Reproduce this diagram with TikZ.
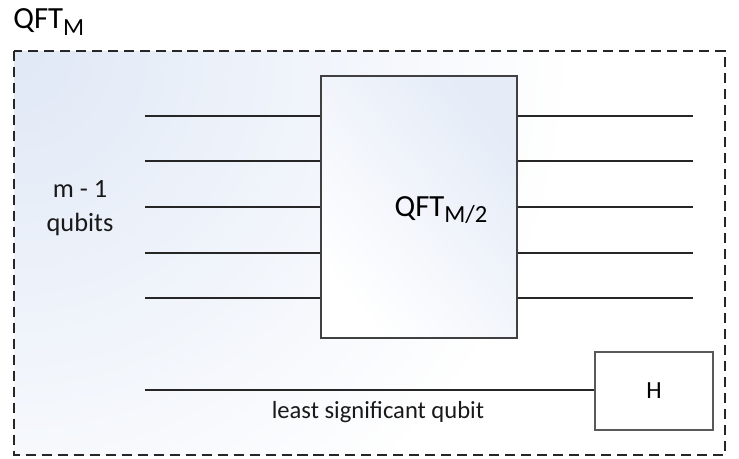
\documentclass[tikz,border=0pt]{standalone}
\usepackage{fontspec}
\setmainfont{Carlito}
\usepackage{tikz}
\usetikzlibrary{positioning, calc}
\definecolor{bgblue}{RGB}{224,232,246}
\definecolor{boxgray}{RGB}{64,64,64}
\newcommand{\qsub}[1]{\raisebox{-0.45ex}{\fontsize{14}{16}\selectfont #1}}
\tikzset{
  wire/.style={line width=1.6pt, draw=black!85},
  gatebox/.style={rectangle, draw=boxgray, line width=1.5pt, inner sep=0pt},
  hbox/.style={rectangle, draw=black!65, line width=1pt, fill=white, inner sep=0pt},
  frame/.style={dashed, dash pattern=on 5.7pt off 3.4pt, line width=1.1pt, draw=black!85},
  lbl/.style={font=\fontsize{14}{17}\selectfont, text=black!90, align=center},
  title/.style={font=\fontsize{17.5}{20}\selectfont, inner sep=0pt}
}

\begin{document}
\begin{tikzpicture}[x=0.02cm, y=-0.02cm]
    \useasboundingbox (0,0) rectangle (739,458);

    % Fondo del bloque QFT_M
    \begin{scope}
        \clip (14,51) rectangle (725,455);
        \shade[inner color=bgblue, outer color=white] (14,51) circle (560);
    \end{scope}
    \draw[frame] (14,51) rectangle (725,455);
    \node[title, anchor=west] (qftm) at (13,22) {QFT\qsub{M}};

    % Bloque QFT_M/2
    \shade[top color=bgblue!85, bottom color=white, shading angle=-50] (321,76) rectangle (517,338);
    \node[gatebox, minimum width=196*0.02cm, minimum height=262*0.02cm] (qft) at (419,207) {};
    \node[title] (qftlbl) at (441,210) {QFT\qsub{M/2}};

    % Hilos de entrada y salida
    \foreach \i/\y in {1/116, 2/161, 3/207, 4/253, 5/298} {
        \coordinate (inL\i) at (145,\y);
        \coordinate (outR\i) at (693,\y);
        \draw[wire] (inL\i) -- (inL\i -| qft.west);
        \draw[wire] (qft.east |- outR\i) -- (outR\i);
    }
    \node[lbl, font=\fontsize{15}{19}\selectfont] (mlbl) at (80,208) {m - 1\\qubits};

    % Qubit menos significativo y puerta H
    \node[hbox, minimum width=118*0.02cm, minimum height=78*0.02cm, font=\fontsize{14}{16}\selectfont] (hgate) at (654,391) {H};
    \coordinate (inLsb) at (145,390);
    \draw[wire] (inLsb) -- (inLsb -| hgate.west);
    \node[lbl] (lsblbl) at (378,412) {least significant qubit};

\end{tikzpicture}
\end{document}
